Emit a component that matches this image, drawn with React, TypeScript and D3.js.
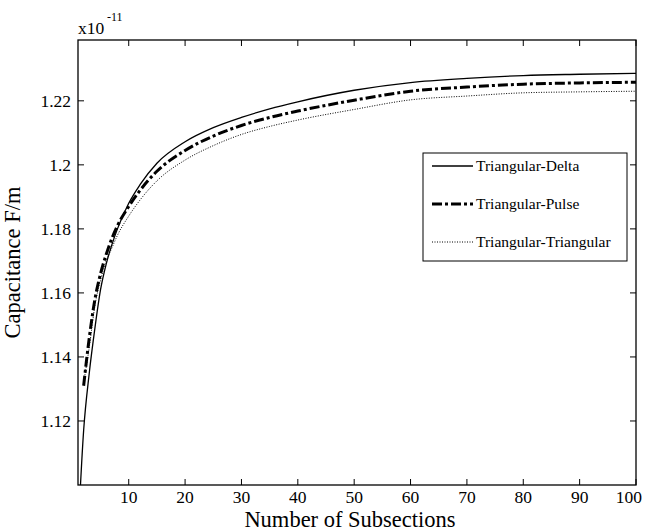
import * as d3 from 'd3';
import React from 'react';

// number of subsections (x) and capacitance in units of 1e-11 F/m
const deltaX = [1, 2, 3, 4, 5, 6, 7, 8, 10, 12, 15, 20, 25, 30, 35, 40, 50, 60, 70, 80, 90, 100];
const deltaY = [1.0846, 1.117, 1.135, 1.149, 1.161, 1.169, 1.175, 1.180, 1.188, 1.1938, 1.2005, 1.2072, 1.2116, 1.2148, 1.2175, 1.2197, 1.2233, 1.2257, 1.2270, 1.2279, 1.2283, 1.2286];

const pulseX = [2, 3, 4, 5, 6, 7, 8, 10, 12, 15, 20, 25, 30, 35, 40, 50, 60, 70, 80, 90, 100];
const pulseY = [1.131, 1.146, 1.158, 1.166, 1.172, 1.177, 1.181, 1.187, 1.192, 1.198, 1.2045, 1.209, 1.2123, 1.2148, 1.2168, 1.2202, 1.2230, 1.2243, 1.2252, 1.2256, 1.2258];

const triX = [2, 3, 4, 5, 6, 7, 8, 10, 12, 15, 20, 25, 30, 35, 40, 50, 60, 70, 80, 90, 100];
const triY = [1.132, 1.143, 1.156, 1.164, 1.170, 1.174, 1.178, 1.184, 1.189, 1.195, 1.2015, 1.206, 1.2095, 1.212, 1.214, 1.2173, 1.2203, 1.2215, 1.2225, 1.2228, 1.2230];

const xTicks = [10, 20, 30, 40, 50, 60, 70, 80, 90, 100];
const yTicks = [1.12, 1.14, 1.16, 1.18, 1.2, 1.22];
const yTickLabels = ['1.12', '1.14', '1.16', '1.18', '1.2', '1.22'];

const seriesNames = ['Triangular-Delta', 'Triangular-Pulse', 'Triangular-Triangular'];

const W = 645;
const H = 532;
const left = 78, right = 636, top = 40, bottom = 485;
const font = '"Liberation Serif", "Times New Roman", serif';

const styles = [
  { width: 1.3, dash: null },
  { width: 3, dash: '10,3,3,3' },
  { width: 1, dash: '1,1.5' },
];

export default function App() {
  const x = d3.scaleLinear().domain([1, 100]).range([left, right]);
  const y = d3.scaleLinear().domain([1.1, 1.239]).range([bottom, top]);

  const series = [
    deltaX.map((v, i) => [v, deltaY[i]]),
    pulseX.map((v, i) => [v, pulseY[i]]),
    triX.map((v, i) => [v, triY[i]]),
  ];

  const line = d3.line<number[]>()
    .x(d => x(d[0]))
    .y(d => y(d[1]))
    .curve(d3.curveMonotoneX);

  const tickLen = 6;
  const legX = 423, legY = 153, legW = 204, legH = 108;
  const entryY = [166, 204, 242];

  return (
    <svg width={W} height={H} style={{ position: 'absolute', left: 0, top: 0, background: '#fff' }}>
      <defs>
        <clipPath id="plot">
          <rect x={left} y={top} width={right - left} height={bottom - top} />
        </clipPath>
      </defs>

      <g clipPath="url(#plot)">
        {series.map((s, i) => (
          <path key={i} d={line(s) || ''} fill="none" stroke="#000"
            strokeWidth={styles[i].width}
            strokeDasharray={styles[i].dash || undefined} />
        ))}
      </g>

      {/* ticks on all four sides, pointing in */}
      {xTicks.map(t => (
        <g key={'x' + t}>
          <line x1={x(t)} x2={x(t)} y1={bottom} y2={bottom - tickLen} stroke="#000" />
          <line x1={x(t)} x2={x(t)} y1={top} y2={top + tickLen} stroke="#000" />
          <text x={t === 100 ? 642 : x(t)} y={bottom + 18} textAnchor={t === 100 ? 'end' : 'middle'}
            fontFamily={font} fontSize={17.5}>{t}</text>
        </g>
      ))}
      {yTicks.map((t, i) => (
        <g key={'y' + t}>
          <line x1={left} x2={left + tickLen} y1={y(t)} y2={y(t)} stroke="#000" />
          <line x1={right} x2={right - tickLen} y1={y(t)} y2={y(t)} stroke="#000" />
          <text x={left - 7} y={y(t) + 6} textAnchor="end" fontFamily={font} fontSize={17.5}>{yTickLabels[i]}</text>
        </g>
      ))}

      <rect x={left} y={top} width={right - left} height={bottom - top} fill="none" stroke="#000" strokeWidth={1.3} />

      <text x={left} y={34} fontFamily={font} fontSize={17.5}>x10</text>
      <text x={107} y={21} fontFamily={font} fontSize={12}>-11</text>

      <text x={350} y={527} textAnchor="middle" fontFamily={font} fontSize={22.5}>Number of Subsections</text>
      <text transform={`translate(20,${(top + bottom) / 2}) rotate(-90)`} textAnchor="middle" fontFamily={font} fontSize={22.5}>Capacitance F/m</text>

      <rect x={legX} y={legY} width={legW} height={legH} fill="#fff" stroke="#000" strokeWidth={1} />
      {seriesNames.map((n, i) => (
        <g key={n}>
          <line x1={432} x2={473} y1={entryY[i]} y2={entryY[i]} stroke="#000"
            strokeWidth={styles[i].width} strokeDasharray={styles[i].dash || undefined} />
          <text x={476} y={entryY[i] + 5} fontFamily={font} fontSize={15.5}>{n}</text>
        </g>
      ))}
    </svg>
  );
}
